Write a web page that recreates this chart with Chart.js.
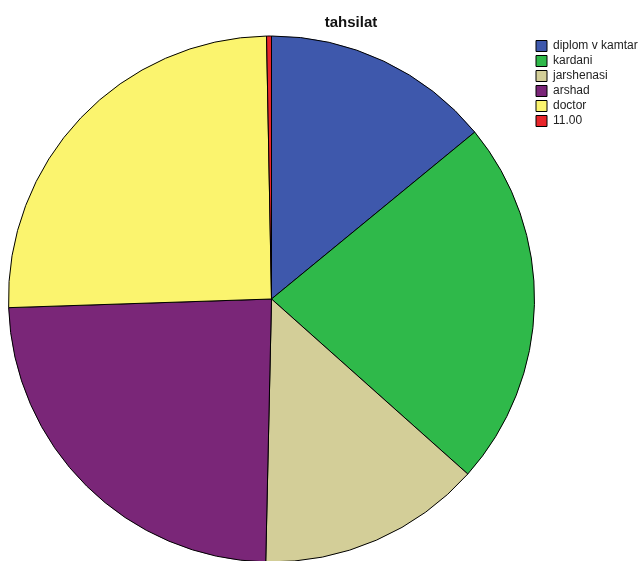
<!DOCTYPE html>
<html>
<head>
<meta charset="utf-8">
<script src="https://cdn.jsdelivr.net/npm/chart.js@4"></script>
<style>
  html, body { margin: 0; padding: 0; background: #fff; }
  #wrap { width: 638px; height: 561px; }
</style>
</head>
<body>
<div id="wrap"><canvas id="pie"></canvas></div>
<script>
// tahsilat - share of each education level (percent)
const categories = ['diplom v kamtar', 'kardani', 'jarshenasi', 'arshad', 'doctor', '11.00'];
const shares = [14.1, 22.6, 13.8, 24.2, 25.3, 0.3];
const sliceColors = ['#3e58ac', '#2fb94a', '#d3ce98', '#7a2678', '#fbf46e', '#e8262b'];
const chartTitle = 'tahsilat';

// title is not centred on the canvas in the original, so draw it ourselves
const titlePlugin = {
    id: 'offsetTitle',
    afterDraw(chart) {
        const ctx = chart.ctx;
        ctx.save();
        ctx.font = 'bold 15px "Liberation Sans", Arial, sans-serif';
        ctx.fillStyle = '#111';
        ctx.textAlign = 'center';
        ctx.textBaseline = 'alphabetic';
        ctx.fillText(chartTitle, 351, 27);
        ctx.restore();
    }
};

new Chart(document.getElementById('pie'), {
    type: 'pie',
    data: {
        labels: categories,
        datasets: [{
            data: shares,
            backgroundColor: sliceColors,
            borderColor: '#000',
            borderWidth: 1,
            radius: 263
        }]
    },
    options: {
        responsive: true,
        maintainAspectRatio: false,
        animation: false,
        layout: { padding: { left: 10, top: 37, right: 0, bottom: 0 } },
        plugins: {
            title: { display: false },
            tooltip: { enabled: false },
            legend: {
                position: 'right',
                align: 'start',
                maxWidth: 105,
                labels: {
                    boxWidth: 11,
                    boxHeight: 11,
                    padding: 3,
                    color: '#222',
                    font: { family: '"Liberation Sans", Arial, sans-serif', size: 12 }
                }
            }
        }
    },
    plugins: [titlePlugin]
});
</script>
</body>
</html>
